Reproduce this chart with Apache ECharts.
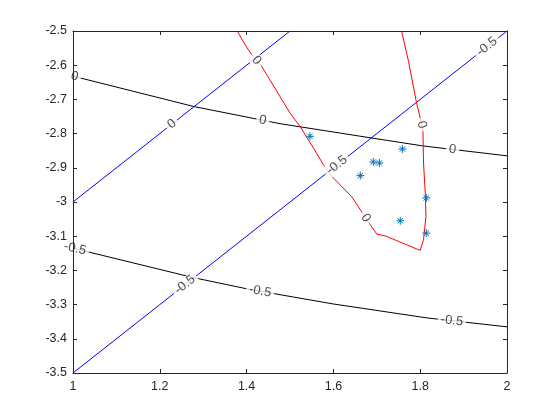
<!DOCTYPE html>
<html><head><meta charset="utf-8">
<script src="https://cdn.jsdelivr.net/npm/echarts@6/dist/echarts.min.js"></script>
<style>html,body{margin:0;padding:0;background:#fff}#c{width:560px;height:420px}</style>
</head><body><div id="c"></div>
<script>
// Axis ticks
const xTicks = [1, 1.2, 1.4, 1.6, 1.8, 2];
const yTicks = [-3.5, -3.4, -3.3, -3.2, -3.1, -3, -2.9, -2.8, -2.7, -2.6, -2.5];

// Contour lines (blue family)
const blueZero = [[1, -3], [1.5, -2.5]];
const blueMinusHalf = [[1, -3.5], [2, -2.5]];

// Contour lines (black family)
const blackZero = [[1, -2.632], [1.279, -2.721], [1.477, -2.771], [1.684, -2.812], [1.806, -2.836], [2, -2.865]];
const blackMinusHalf = [[1, -3.135], [1.0385, -3.147], [1.277, -3.221], [1.401, -3.254], [1.477, -3.271], [1.599, -3.298], [1.816, -3.339], [2, -3.365]];

// Contour line (red)
const redZero = [[1.3785, -2.5], [1.3963, -2.540], [1.4117, -2.569], [1.4348, -2.6035], [1.5001, -2.740], [1.5232, -2.779],
  [1.5539, -2.842], [1.577, -2.891], [1.5963, -2.925], [1.604, -2.935], [1.6425, -2.985], [1.6617, -3.022], [1.6847, -3.066],
  [1.7002, -3.094], [1.7193, -3.099], [1.80, -3.1415], [1.8077, -3.110], [1.8133, -3.042], [1.8117, -2.974], [1.8077, -2.886],
  [1.8063, -2.789], [1.80, -2.754], [1.7909, -2.706], [1.7731, -2.589], [1.757, -2.5]];

// Star points
const starX = [1.546, 1.692, 1.706, 1.759, 1.662, 1.814, 1.754, 1.814];
const starY = [-2.808, -2.883, -2.886, -2.845, -2.923, -2.988, -3.055, -3.091];

// Contour labels: text, x, y
const blackZeroLabels = [["0", 1.004, -2.631], ["0", 1.4377, -2.7596], ["0", 1.8747, -2.844]];
const blackMinusHalfLabels = [["-0.5", 1.005, -3.134], ["-0.5", 1.431, -3.262], ["-0.5", 1.873, -3.347]];
const blueZeroLabels = [["0", 1.228, -2.772]];
const blueMinusHalfLabels = [["-0.5", 1.258, -3.242], ["-0.5", 1.608, -2.892], ["-0.5", 1.954, -2.546]];
const redZeroLabels = [["0", 1.4246, -2.584], ["0", 1.6755, -3.046], ["0", 1.8043, -2.774]];

const AX = '#262626';
const FONT = '"Liberation Sans", Arial, Helvetica, sans-serif';
const chart = echarts.init(document.getElementById('c'), null, {renderer: 'canvas'});

function fmt(v) { return String(Math.round(v * 10) / 10); }

function xAxisDef(pos, showLabel) {
  return {
    type: 'value', position: pos, min: xTicks[0], max: xTicks[xTicks.length - 1],
    interval: 0.2, z: 10,
    axisLine: {show: true, onZero: false, lineStyle: {color: AX, width: 1}},
    axisTick: {show: true, inside: true, length: 4, lineStyle: {color: AX}},
    axisLabel: {show: showLabel, color: AX, fontSize: 12.5, fontFamily: FONT, margin: 7, showMinLabel: true, showMaxLabel: true, formatter: fmt},
    splitLine: {show: false}
  };
}
function yAxisDef(pos, showLabel) {
  return {
    type: 'value', position: pos, min: yTicks[0], max: yTicks[yTicks.length - 1],
    interval: 0.1, z: 10,
    axisLine: {show: true, onZero: false, lineStyle: {color: AX, width: 1}},
    axisTick: {show: true, inside: true, length: 4, lineStyle: {color: AX}},
    axisLabel: {show: showLabel, color: AX, fontSize: 12.5, fontFamily: FONT, margin: 6, showMinLabel: true, showMaxLabel: true, formatter: fmt},
    splitLine: {show: false}
  };
}

chart.setOption({
  animation: false,
  backgroundColor: '#fff',
  grid: {left: 73, right: 53, top: 31, bottom: 47, containLabel: false},
  xAxis: [xAxisDef('bottom', true), xAxisDef('top', false)],
  yAxis: [yAxisDef('left', true), yAxisDef('right', false)],
  series: []
});

function toPx(p) { return chart.convertToPixel({xAxisIndex: 0, yAxisIndex: 0}, p); }
function fromPx(p) { return chart.convertFromPixel({xAxisIndex: 0, yAxisIndex: 0}, p); }

function placeLabels(labels, line) {
  const pts = line.map(toPx);
  return labels.map(function (l) {
    const p = toPx([l[1], l[2]]);
    let best = null;
    for (let i = 0; i < pts.length - 1; i++) {
      const a = pts[i], b = pts[i + 1];
      const dx = b[0] - a[0], dy = b[1] - a[1];
      const L2 = dx * dx + dy * dy;
      let t = ((p[0] - a[0]) * dx + (p[1] - a[1]) * dy) / L2;
      t = Math.max(0, Math.min(1, t));
      const q = [a[0] + t * dx, a[1] + t * dy];
      const d = Math.hypot(p[0] - q[0], p[1] - q[1]);
      if (!best || d < best.d) {
        let ang = Math.atan2(-dy, dx) * 180 / Math.PI;
        if (ang > 90) ang -= 180;
        if (ang < -90) ang += 180;
        best = {d: d, q: q, ang: ang};
      }
    }
    return {
      value: fromPx(best.q),
      label: {show: true, formatter: l[0], rotate: best.ang}
    };
  });
}

function lineSeries(data, color) {
  return {
    type: 'line', data: data, showSymbol: false, symbol: 'none', silent: true, z: 2,
    lineStyle: {color: color, width: 1}, clip: true
  };
}

const labelData = []
  .concat(placeLabels(blackZeroLabels, blackZero))
  .concat(placeLabels(blackMinusHalfLabels, blackMinusHalf))
  .concat(placeLabels(blueZeroLabels, blueZero))
  .concat(placeLabels(blueMinusHalfLabels, blueMinusHalf))
  .concat(placeLabels(redZeroLabels, redZero));

chart.setOption({
  series: [
    lineSeries(blackZero, '#000000'),
    lineSeries(blackMinusHalf, '#000000'),
    lineSeries(blueZero, '#0000ff'),
    lineSeries(blueMinusHalf, '#0000ff'),
    lineSeries(redZero, '#ff0000'),
    {
      type: 'scatter', silent: true, z: 5,
      data: starX.map(function (x, i) { return [x, starY[i]]; }),
      symbol: 'path://M4 0V8M0 4H8M1.3 1.3L6.7 6.7M1.3 6.7L6.7 1.3',
      symbolSize: 8,
      itemStyle: {color: 'rgba(0,0,0,0)', borderColor: '#0072BD', borderWidth: 1, opacity: 1}
    },
    {
      type: 'scatter', silent: true, z: 4,
      symbolSize: 0, symbol: 'circle',
      itemStyle: {color: 'rgba(0,0,0,0)'},
      label: {
        show: true, position: 'inside', color: '#1a1a1a', fontSize: 13, fontFamily: FONT,
        backgroundColor: '#ffffff', padding: [0, 3], align: 'center', verticalAlign: 'middle'
      },
      data: labelData
    }
  ]
});
</script>
</body></html>
